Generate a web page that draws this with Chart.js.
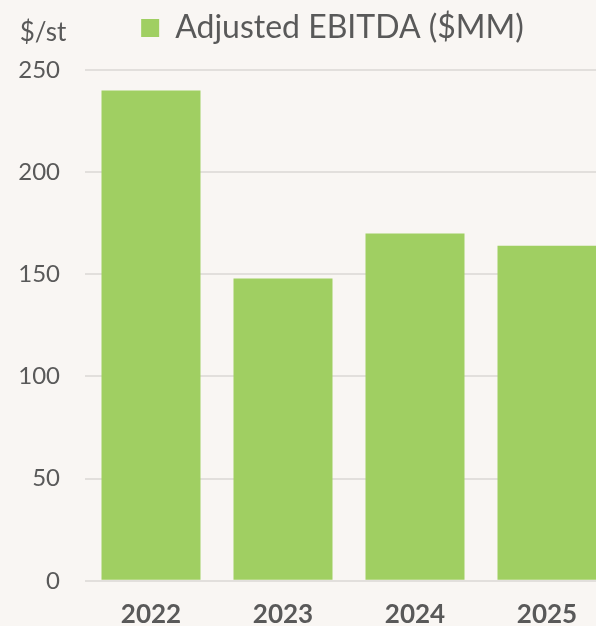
<!DOCTYPE html>
<html>
<head>
<meta charset="utf-8">
<script src="https://cdn.jsdelivr.net/npm/chart.js@4"></script>
<style>
    html, body { margin: 0; padding: 0; background: #f9f6f3; overflow: hidden; }
    #holder { width: 665px; height: 648px; position: relative; }
</style>
</head>
<body>
<div id="holder"><canvas id="c1"></canvas></div>
<script>
// values
var years = ["2022", "2023", "2024", "2025"];
var ebitda = [240, 148, 170, 164];
var seriesName = "Adjusted EBITDA ($MM)";
var unitLabel = "$/st";
var yTicks = [0, 50, 100, 150, 200, 250];

var textColor = "#595959";
var barColor = "#a0cf62";
var gridColor = "#e2dfdc";

// draws the "$/st" unit label in the top-left corner
var unitPlugin = {
    id: "unitLabel",
    afterDraw(chart) {
        let ctx = chart.ctx;
        ctx.save();
        ctx.font = "26px Lato";
        ctx.fillStyle = textColor;
        ctx.textAlign = "center";
        ctx.textBaseline = "middle";
        ctx.fillText(unitLabel, 43, 33);
        ctx.restore();
    }
};

function start() {
    let canvas = document.getElementById("c1");

    new Chart(canvas, {
        type: 'bar',
        data: {
            labels: years,
            datasets: [{
                label: seriesName,
                data: ebitda,
                backgroundColor: barColor,
                borderWidth: 0,
                categoryPercentage: 0.75,
                barPercentage: 1.0
            }]
        },
        options: {
            responsive: true,
            maintainAspectRatio: false,
            animation: false,
            layout: { padding: 0 },
            scales: {
                x: {
                    grid: { display: false, drawTicks: false },
                    border: { display: false },
                    ticks: {
                        color: textColor,
                        padding: 18,
                        font: { family: "Lato", size: 26, weight: "bold" }
                    }
                },
                y: {
                    min: 0,
                    max: 250,
                    afterBuildTicks: (scale) => {
                        scale.ticks = yTicks.map((v) => ({value: v}));
                    },
                    afterFit: (scale) => { scale.width = 85; },
                    grid: { color: gridColor, lineWidth: 2, drawTicks: false },
                    border: { display: false },
                    ticks: {
                        color: textColor,
                        padding: 25,
                        font: { family: "Lato", size: 24 }
                    }
                },
                // empty axis on the right, keeps the legend centred like the source
                y2: {
                    position: 'right',
                    afterFit: (scale) => { scale.width = 52; },
                    grid: { display: false, drawTicks: false },
                    border: { display: false },
                    ticks: { display: false }
                }
            },
            plugins: {
                legend: {
                    position: 'top',
                    labels: {
                        color: textColor,
                        boxWidth: 18,
                        boxHeight: 18,
                        padding: 12,
                        font: { family: "Lato", size: 32 }
                    }
                },
                // empty title used as a spacer between legend and plot
                title: {
                    display: true,
                    text: "",
                    weight: 500,
                    font: { size: 1, lineHeight: 1 },
                    padding: { top: 0, bottom: 15 }
                },
                tooltip: { enabled: false }
            }
        },
        plugins: [unitPlugin]
    });
}

start();
</script>
</body>
</html>
